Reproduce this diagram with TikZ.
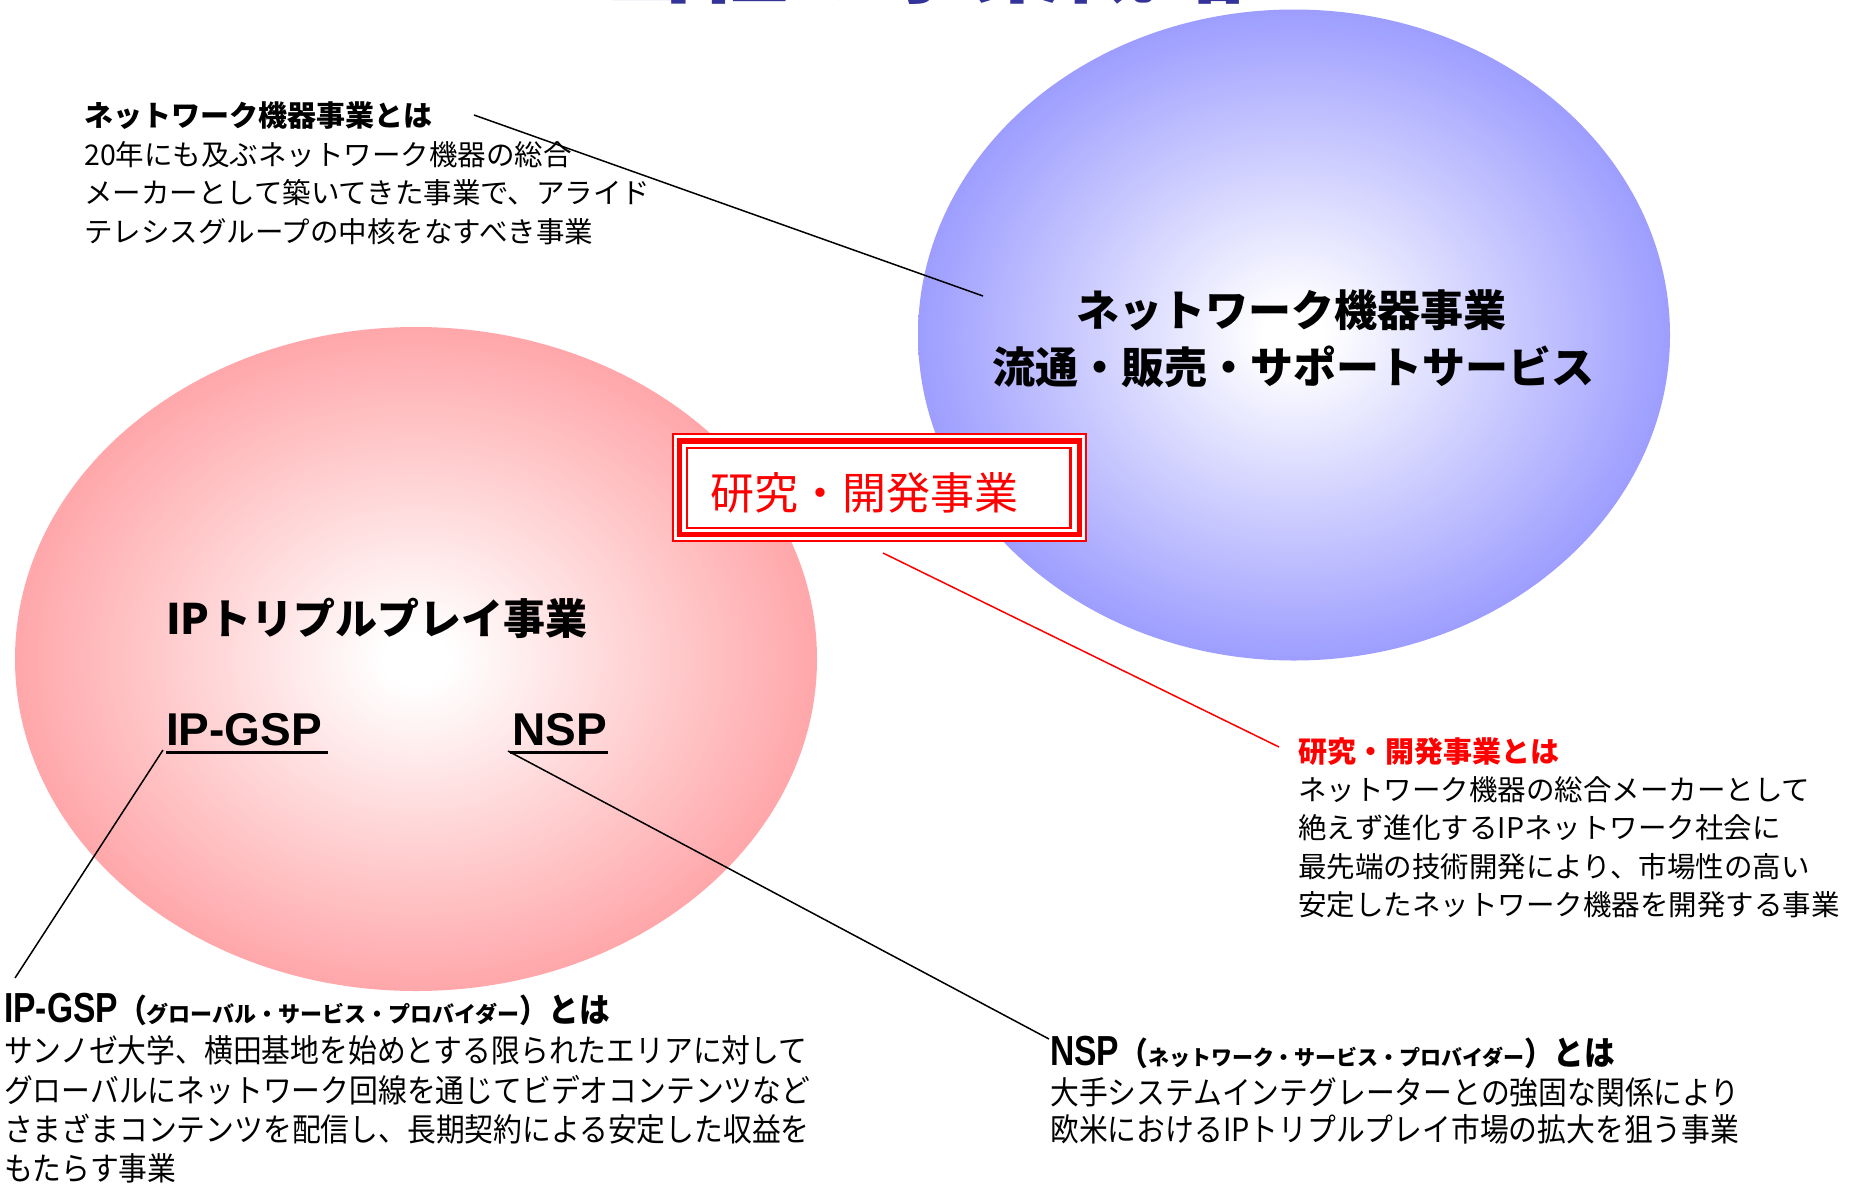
\documentclass[tikz,border=0pt]{standalone}
\usepackage{fontspec}
\setmainfont{Noto Sans CJK JP}
\newfontfamily\jp{Noto Sans CJK JP}
\newfontfamily\jpc[FakeStretch=0.9]{Noto Sans CJK JP}
\newfontfamily\latb{Liberation Sans}
\newfontfamily\latc[FakeStretch=0.8]{Liberation Sans}
\usetikzlibrary{shapes.geometric}
\definecolor{pinkE}{RGB}{255,163,166}
\definecolor{blueE}{RGB}{153,153,255}
\definecolor{titleblue}{RGB}{51,51,153}
\definecolor{boxred}{RGB}{255,0,0}
\pgfdeclareradialshading{pinkglow}{\pgfpoint{0bp}{0bp}}{color(0bp)=(white); color(2bp)=(white); color(26bp)=(pinkE); color(50bp)=(pinkE)}
\pgfdeclareradialshading{blueglow}{\pgfpoint{0bp}{0bp}}{color(0bp)=(white); color(2bp)=(white); color(26bp)=(blueE); color(50bp)=(blueE)}
\newcommand\setfs[1]{\fontsize{#1}{#1}\selectfont}
\tikzset{
  txt/.style={anchor=base west, inner sep=0pt, text=black},
  ctxt/.style={anchor=base, inner sep=0pt, text=black},
  conn/.style={line width=1.5pt, black},
  rconn/.style={line width=1.5pt, boxred},
  uline/.style={line width=3pt, black},
  bodyA/.style={font=\jp\setfs{28.5}},
  headA/.style={font=\jp\bfseries\setfs{29}},
  bodyB/.style={font=\jpc\setfs{32}},
}
\begin{document}
\begin{tikzpicture}[x=1pt,y=-1pt]
\fill[white] (0,0) rectangle (1857,1187);
\useasboundingbox (0,0) rectangle (1857,1187);

% title (cut off at top edge)
\node[anchor=base, inner sep=0pt, font=\jp\bfseries\setfs{92}, text=titleblue] (title) at (925,-5) {当社の事業概略};

% ellipses
\node[ellipse, shading=blueglow, minimum width=752pt, minimum height=651pt, inner sep=0pt] (blueell) at (1294,335) {};
\node[ellipse, shading=pinkglow, minimum width=802pt, minimum height=664pt, inner sep=0pt] (pinkell) at (416,659) {};

% blue ellipse text
\node[ctxt, font=\jp\bfseries\setfs{43}] (bl1) at (1291,326) {ネットワーク機器事業};
\node[ctxt, font=\jp\bfseries\setfs{43}] (bl2) at (1293,383) {流通・販売・サポートサービス};

% pink ellipse text
\node[txt, font=\jp\bfseries\setfs{42}] (pk) at (166,634) {IPトリプルプレイ事業};
\node[txt, font=\latb\bfseries\setfs{46}] (gsp) at (166,745) {IP-GSP};
\node[txt, font=\latb\bfseries\setfs{46}] (nsp) at (512,745) {NSP};
\draw[uline] (166,752) -- (328,752);
\draw[uline] (510,752) -- (608,752);

% red box
\node[draw=boxred, line width=1.7pt, fill=white, minimum width=412.6pt, minimum height=106.6pt, inner sep=0pt] (rd) at (879.5,487.5) {};
\draw[boxred, line width=5.5pt] (679.7,441) rectangle (1079.7,534.5);
\draw[boxred, line width=2.6pt] (687,448) rectangle (1070.7,528);
\node[ctxt, font=\jp\setfs{44}, text=boxred] (rdtxt) at (864,509) {研究・開発事業};

% top-left text block
\node[txt, headA] (a0) at (84,126) {ネットワーク機器事業とは};
\node[txt, bodyA] (a1) at (84,165) {20年にも及ぶネットワーク機器の総合};
\node[txt, bodyA] (a2) at (84,203) {メーカーとして築いてきた事業で、アライド};
\node[txt, bodyA] (a3) at (84,242) {テレシスグループの中核をなすべき事業};

% right text block
\node[txt, headA, text=boxred] (b0) at (1298,762) {研究・開発事業とは};
\node[txt, bodyA] (b1) at (1298,800) {ネットワーク機器の総合メーカーとして};
\node[txt, bodyA] (b2) at (1298,838) {絶えず進化するIPネットワーク社会に};
\node[txt, bodyA] (b3) at (1298,877) {最先端の技術開発により、市場性の高い};
\node[txt, bodyA] (b4) at (1298,915) {安定したネットワーク機器を開発する事業};

% bottom-left text block
\node[txt] (c0) at (4,1022) {{\latc\bfseries\setfs{42}IP-GSP}{\jpc\bfseries\setfs{32}（}{\jp\bfseries\setfs{22}グローバル・サービス・プロバイダー}{\jpc\bfseries\setfs{32}）}{\jpc\bfseries\setfs{34}とは}};
\node[txt, bodyB] (c1) at (4,1062) {サンノゼ大学、横田基地を始めとする限られたエリアに対して};
\node[txt, bodyB] (c2) at (4,1102) {グローバルにネットワーク回線を通じてビデオコンテンツなど};
\node[txt, bodyB] (c3) at (4,1141) {さまざまコンテンツを配信し、長期契約による安定した収益を};
\node[txt, bodyB] (c4) at (4,1180) {もたらす事業};

% bottom-right text block
\node[txt] (d0) at (1050,1065) {{\latc\bfseries\setfs{42}NSP}{\jpc\bfseries\setfs{32}（}{\jp\bfseries\setfs{21}ネットワーク・サービス・プロバイダー}{\jpc\bfseries\setfs{32}）}{\jpc\bfseries\setfs{34}とは}};
\node[txt, bodyB] (d1) at (1050,1104) {大手システムインテグレーターとの強固な関係により};
\node[txt, bodyB] (d2) at (1050,1141) {欧米におけるIPトリプルプレイ市場の拡大を狙う事業};

% connectors
\coordinate (k1a) at (474,115);
\coordinate (k1b) at (983,296);
\draw[conn] (k1a) -- (k1b);
\coordinate (k2a) at (883,553);
\coordinate (k2b) at (1279,747);
\draw[rconn] (k2a) -- (k2b);
\coordinate (k3a) at (163,750);
\coordinate (k3b) at (15,978);
\draw[conn] (k3a) -- (k3b);
\coordinate (k4a) at (508,751);
\coordinate (k4b) at (1049,1039);
\draw[conn] (k4a) -- (k4b);
\end{tikzpicture}
\end{document}
